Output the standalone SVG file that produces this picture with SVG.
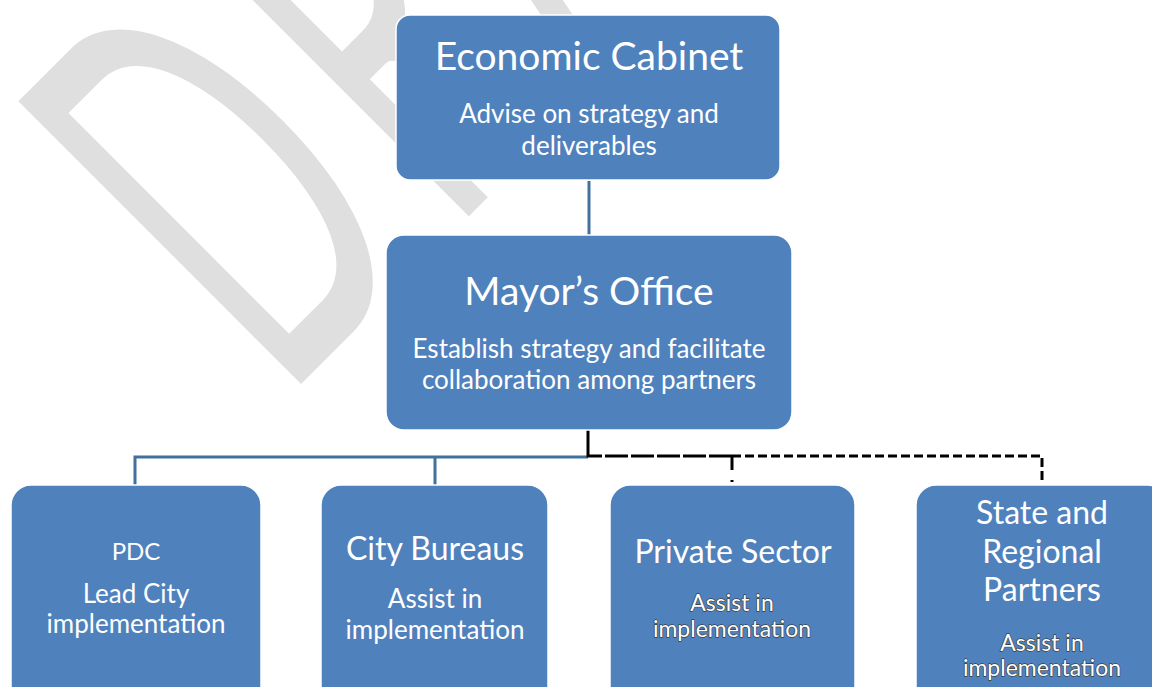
<svg xmlns="http://www.w3.org/2000/svg" width="1152" height="687" viewBox="0 0 1152 687">
<style>
.box{fill:#4f81bd;stroke:#ffffff;stroke-width:1.5}
.t{font-family:Lato,"Open Sans","Liberation Sans",sans-serif;fill:#ffffff;text-anchor:middle}
.title{font-size:39px}
.mid{font-size:32px}
.sub{font-size:26px}
.pdc{font-size:24px}
.sm{font-size:23px;stroke:#3a3a3a;stroke-width:1.3px;paint-order:stroke;stroke-linejoin:round}
.wm{font-family:Lato,"Liberation Sans",sans-serif;font-size:558px;fill:#dfdfdf}
.blue{stroke:#41719c;stroke-width:3;fill:none}
.blk{stroke:#000000;stroke-width:3;fill:none}
</style>
<rect width="1152" height="687" fill="#ffffff"/>
<g id="watermark">
<text class="wm" transform="translate(283,402) rotate(-45) scale(0.5,1)" letter-spacing="50">DRAFT</text>
</g>
<g id="connectors">
<line class="blue" x1="589" y1="181" x2="589" y2="235"/>
<path class="blue" d="M135,485 V457 H588 M435,457 V485"/>
<path class="blk" d="M588,430 V456 H732" stroke-dasharray="40 3 23 3 23 3 23 3 23 3 23 3 23"/>
<path class="blk" d="M732,456 H1042 V482" stroke-dasharray="9 4"/>
<path class="blk" d="M732,456 V484" stroke-dasharray="14 10 2 10"/>
</g>
<g id="economic-cabinet">
<rect class="box" x="396" y="15" width="384" height="165" rx="14"/>
<text class="t title" x="589" y="70">Economic Cabinet</text>
<text class="t sub" x="589" y="123">Advise on strategy and</text>
<text class="t sub" x="589" y="155">deliverables</text>
</g>
<g id="mayors-office">
<rect class="box" x="386" y="235" width="406" height="195" rx="18"/>
<text class="t title" x="589" y="305">Mayor’s Office</text>
<text class="t sub" x="589" y="358">Establish strategy and facilitate</text>
<text class="t sub" x="589" y="389">collaboration among partners</text>
</g>
<g id="pdc">
<rect class="box" x="11" y="485" width="250" height="230" rx="20"/>
<text class="t pdc" x="136" y="560">PDC</text>
<text class="t sub" x="136" y="603">Lead City</text>
<text class="t sub" x="136" y="633">implementation</text>
</g>
<g id="city-bureaus">
<rect class="box" x="321" y="485" width="227" height="230" rx="20"/>
<text class="t mid" x="435" y="560">City Bureaus</text>
<text class="t sub" x="435" y="608">Assist in</text>
<text class="t sub" x="435" y="639">implementation</text>
</g>
<g id="private-sector">
<rect class="box" x="610" y="485" width="245" height="230" rx="20"/>
<text class="t mid" x="733" y="563">Private Sector</text>
<text class="t sm" x="732" y="611">Assist in</text>
<text class="t sm" x="732" y="637">implementation</text>
</g>
<g id="state-regional">
<rect class="box" x="916" y="485" width="252" height="230" rx="20"/>
<text class="t mid" x="1042" y="524">State and</text>
<text class="t mid" x="1042" y="563">Regional</text>
<text class="t mid" x="1042" y="601">Partners</text>
<text class="t sm" x="1042" y="651">Assist in</text>
<text class="t sm" x="1042" y="676">implementation</text>
</g>
</svg>
